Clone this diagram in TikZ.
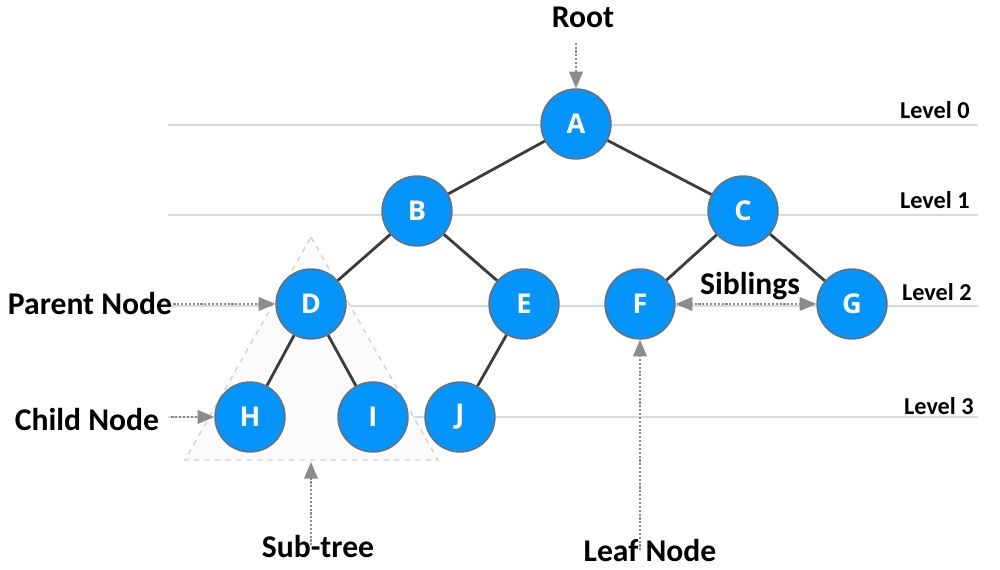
\documentclass[tikz,border=0pt]{standalone}
\usepackage{fontspec}
\setmainfont{Carlito}
\newfontfamily\letterfont{Open Sans}
\usepackage{xcolor}
\usetikzlibrary{arrows, positioning, calc}
\definecolor{nodeblue}{RGB}{5,148,250}
\definecolor{rimgray}{RGB}{110,110,110}
\definecolor{edgegray}{RGB}{60,60,60}
\definecolor{hintgray}{RGB}{140,140,140}
\tikzstyle{arrow} = [thick,->,>=stealth]

\begin{document}
\begin{tikzpicture}[x=0.02cm, y=-0.02cm]
\tikzstyle{treenode} = [circle, minimum size=1.4cm, inner sep=0pt, draw=rimgray, line width=0.8pt, fill=nodeblue, text=white, font=\letterfont\bfseries\fontsize{15.5}{15.5}\selectfont]
\tikzstyle{edge} = [edgegray, line width=1.6pt]
\tikzstyle{levelline} = [gray!30, line width=1pt]
\tikzstyle{levellabel} = [font=\bfseries\fontsize{13.8}{15}\selectfont, anchor=east, inner sep=0pt]
\tikzstyle{tag} = [font=\bfseries\fontsize{18}{20}\selectfont, inner sep=0pt]
\tikzstyle{hint} = [hintgray, densely dotted, line width=1.2pt, -triangle 45]

\useasboundingbox (0,0) rectangle (1000,570);

% level lines
\foreach \y/\lvl in {125/0, 215/1, 306/2, 417/3} {
  \draw [levelline] (168,\y) -- (978,\y);
}
\node [levellabel] (lvl0) at (970,110) {Level 0};
\node [levellabel] (lvl1) at (970,200) {Level 1};
\node [levellabel] (lvl2) at (972,292) {Level 2};
\node [levellabel] (lvl3) at (974,406) {Level 3};

% sub-tree
\draw [gray!35, dashed, line width=0.8pt, fill=gray!3] (311,237) -- (438,460) -- (185,460) -- cycle;
\coordinate (subbase) at (311,462);

% tree
\node (A) [treenode] at (576,124) {A};
\node (B) [treenode] at (417,211) {B};
\node (C) [treenode] at (743,211) {C};
\node (D) [treenode] at (311,304) {D};
\node (E) [treenode] at (524,304) {E};
\node (F) [treenode] at (640,304) {F};
\node (G) [treenode] at (852,304) {G};
\node (H) [treenode] at (250,417) {H};
\node (I) [treenode] at (373,417) {I};
\node (J) [treenode] at (460,417) {J};

\draw [edge] (A) -- (B);
\draw [edge] (A) -- (C);
\draw [edge] (B) -- (D);
\draw [edge] (B) -- (E);
\draw [edge] (C) -- (F);
\draw [edge] (C) -- (G);
\draw [edge] (D) -- (H);
\draw [edge] (D) -- (I);
\draw [edge] (E) -- (J);

% labels
\node (root) [tag] at (583,17) {Root};
\node (parent) [tag] at (90,304) {Parent Node};
\node (child) [tag] at (87,420) {Child Node};
\node (subtree) [tag] at (318,547) {Sub-tree};
\node (leaf) [tag] at (650,551) {Leaf Node};
\node (siblings) [tag] at (750,286) {Siblings};

\draw [hint] ([yshift=-0.3cm]root.south -| A) -- (A);
\draw [hint] ([xshift=0.02cm]parent.east) -- (D);
\draw [hint] ([xshift=0.24cm]child.east |- H) -- (H);
\draw [hint] ([yshift=-0.2cm]subtree.north -| subbase) -- (subbase);
\draw [hint] ([yshift=-0.22cm]leaf.north -| F) -- (F);
\draw [hint, triangle 45-triangle 45] (F) -- (G);

\end{tikzpicture}
\end{document}
